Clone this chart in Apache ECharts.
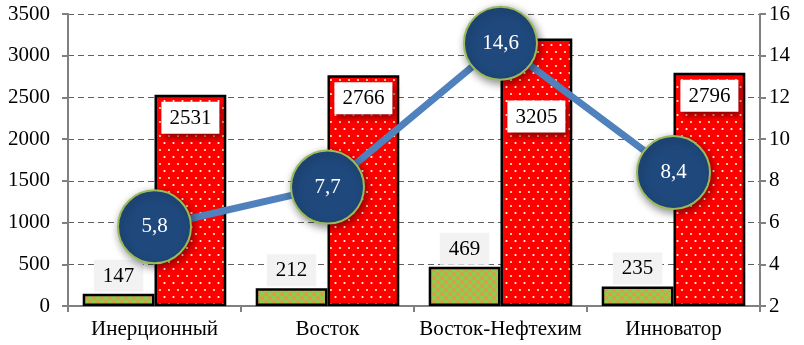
<!DOCTYPE html>
<html>
<head>
<meta charset="utf-8">
<script src="https://cdn.jsdelivr.net/npm/echarts@6/dist/echarts.min.js"></script>
<style>
  html, body { margin: 0; padding: 0; background: #fff; }
  #chart { width: 804px; height: 345px; }
</style>
</head>
<body>
<div id="chart"></div>
<script>
// Категории и значения
const categories = ['Инерционный', 'Восток', 'Восток-Нефтехим', 'Инноватор'];
const smallValues = [147, 212, 469, 235];
const largeValues = [2531, 2766, 3205, 2796];
const ratioValues = [5.8, 7.7, 14.6, 8.4];

const leftMin = 0, leftMax = 3500, leftStep = 500;
const rightMin = 2, rightMax = 16, rightStep = 2;

const FONT = "'Liberation Serif', 'Times New Roman', serif";

// Заливка красных столбцов: белые точки
function dotPattern() {
  const c = document.createElement('canvas');
  c.width = 9; c.height = 14;
  const g = c.getContext('2d');
  g.fillStyle = '#ff0000';
  g.fillRect(0, 0, 9, 14);
  g.fillStyle = '#ffffff';
  g.beginPath(); g.arc(2.5, 3, 1.1, 0, Math.PI * 2); g.fill();
  g.fillStyle = '#fff3c0';
  g.beginPath(); g.arc(7, 10, 1.1, 0, Math.PI * 2); g.fill();
  return c;
}

// Заливка зелёных столбцов: зелёные кружки на оранжевом
function checkPattern() {
  const c = document.createElement('canvas');
  c.width = 8; c.height = 8;
  const g = c.getContext('2d');
  g.fillStyle = '#f0904a';
  g.fillRect(0, 0, 8, 8);
  g.fillStyle = '#8fcc4e';
  [[2, 2], [6, 6], [6, -2], [-2, 6], [10, 6], [6, 10]].forEach(([x, y]) => {
    g.beginPath(); g.arc(x, y, 2.6, 0, Math.PI * 2); g.fill();
  });
  return c;
}

// Подпись 3205 опущена ниже, чтобы не перекрываться кружком линии
const largeData = largeValues.map((v, i) => (
  i === 2 ? { value: v, label: { distance: 62 } } : v
));

const chart = echarts.init(document.getElementById('chart'), null, { renderer: 'canvas' });

const tickText = { fontFamily: FONT, fontSize: 21, color: '#000' };

chart.setOption({
  animation: false,
  backgroundColor: '#ffffff',
  textStyle: { fontFamily: FONT },
  grid: { left: 68, right: 44, top: 14, bottom: 39 },
  xAxis: {
    type: 'category',
    data: categories,
    axisLine: { lineStyle: { color: '#808080', width: 2 } },
    axisTick: { show: true, length: 6, lineStyle: { color: '#808080', width: 2 } },
    axisLabel: Object.assign({ margin: 13, interval: 0 }, tickText)
  },
  yAxis: [
    {
      type: 'value', min: leftMin, max: leftMax, interval: leftStep,
      axisLine: { show: true, lineStyle: { color: '#808080', width: 2 } },
      axisTick: { show: true, length: 6, lineStyle: { color: '#808080', width: 2 } },
      axisLabel: Object.assign({ margin: 18, formatter: v => String(v) }, tickText),
      splitLine: { lineStyle: { color: '#606060', type: [6, 4], width: 1 } }
    },
    {
      type: 'value', min: rightMin, max: rightMax, interval: rightStep,
      position: 'right',
      axisLine: { show: true, lineStyle: { color: '#808080', width: 2 } },
      axisTick: { show: true, length: 6, lineStyle: { color: '#808080', width: 2 } },
      axisLabel: Object.assign({ margin: 9, formatter: v => String(v) }, tickText),
      splitLine: { show: false }
    }
  ],
  series: [
    {
      type: 'bar',
      yAxisIndex: 0,
      data: smallValues,
      barGap: '0%',
      barCategoryGap: '17%',
      z: 2,
      itemStyle: {
        color: { image: checkPattern(), repeat: 'repeat' },
        borderColor: '#000', borderWidth: 2.5
      },
      label: {
        show: true, position: 'top', distance: 2,
        fontFamily: FONT, fontSize: 21, color: '#000',
        backgroundColor: '#f2f2f2', padding: [6, 9, 5, 9]
      }
    },
    {
      type: 'bar',
      yAxisIndex: 0,
      data: largeData,
      barGap: '0%',
      barCategoryGap: '17%',
      z: 2,
      itemStyle: {
        color: { image: dotPattern(), repeat: 'repeat' },
        borderColor: '#000', borderWidth: 2.5
      },
      label: {
        show: true, position: 'insideTop', distance: 7,
        fontFamily: FONT, fontSize: 21, color: '#000',
        backgroundColor: '#ffffff', padding: [6, 8, 5, 8],
        shadowColor: 'rgba(110,0,0,0.75)', shadowBlur: 6,
        shadowOffsetX: 3, shadowOffsetY: 4
      }
    },
    {
      type: 'line',
      yAxisIndex: 1,
      data: ratioValues,
      z: 10,
      symbol: 'circle',
      symbolSize: 73,
      lineStyle: { color: '#4f81bd', width: 7 },
      itemStyle: {
        color: '#1f497d', borderColor: '#9bbb59', borderWidth: 2,
        shadowColor: 'rgba(0,0,0,0.45)', shadowBlur: 8,
        shadowOffsetX: 2, shadowOffsetY: 3
      },
      label: {
        show: true, position: 'inside',
        fontFamily: FONT, fontSize: 21, color: '#ffffff',
        formatter: p => String(p.value).replace('.', ',')
      }
    }
  ]
});
</script>
</body>
</html>
